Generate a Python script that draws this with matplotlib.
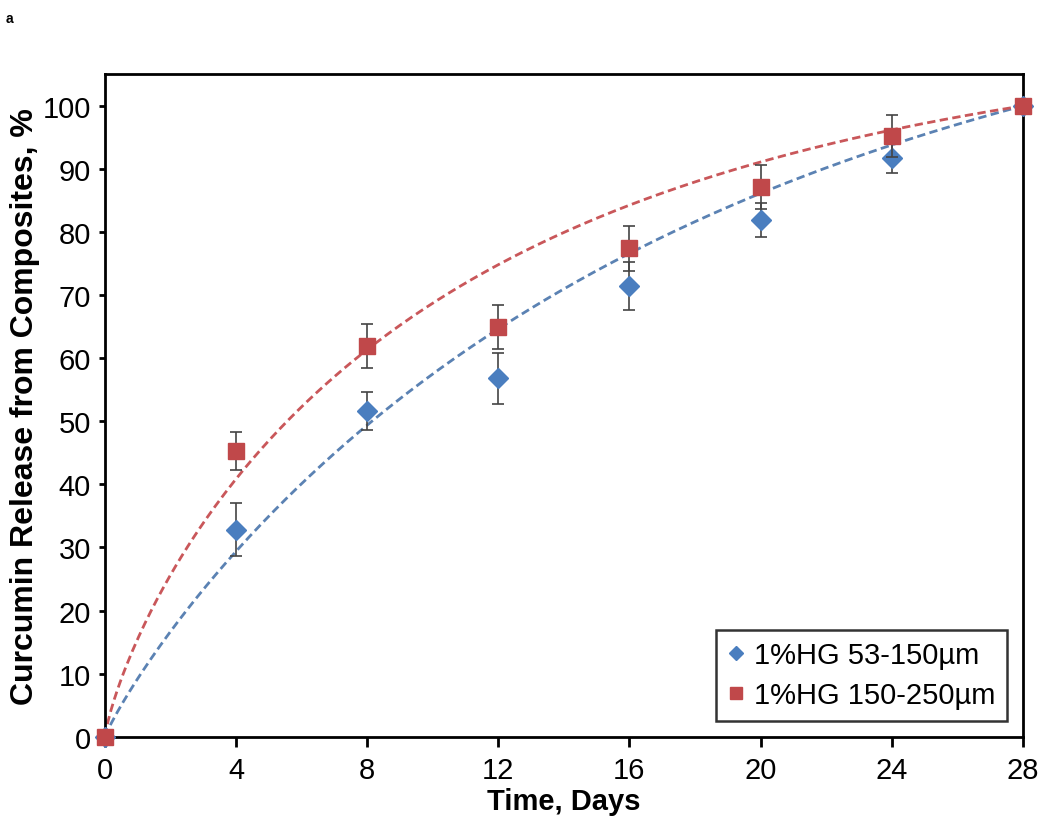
import numpy as np
import matplotlib
matplotlib.use('Agg')
import matplotlib.pyplot as plt
from matplotlib.lines import Line2D

plt.rcParams['font.family'] = ['Liberation Sans', 'DejaVu Sans']

# data
days = np.array([0, 4, 8, 12, 16, 20, 24, 28])
small = np.array([0, 32.8, 51.7, 56.8, 71.4, 81.9, 91.8, 100])      # 1%HG 53-150um
small_err = np.array([0, 4.2, 3.0, 4.0, 3.8, 2.7, 2.5, 0])
large = np.array([0, 45.3, 62.0, 65.0, 77.4, 87.1, 95.2, 100])      # 1%HG 150-250um
large_err = np.array([0, 3.0, 3.5, 3.5, 3.6, 3.5, 3.3, 0])
labels = ['1%HG 53-150µm', '1%HG 150-250µm']

# Weibull release fits shown as dashed lines (tau in days, beta)
tau_small, beta_small = 18.0, 0.9
tau_large, beta_large = 11.0, 0.8

blue = '#4a7ebf'
red = '#c0484a'


def release(t, tau, beta):
    # normalised so that the fit reaches 100 % on the last day
    f = lambda x: 1 - np.exp(-(x / tau) ** beta)
    return 100 * f(t) / f(days[-1])


fig = plt.figure(figsize=(10.5, 8.28), dpi=100)
ax = fig.add_axes([0.1, 0.109, 0.874, 0.8])

tt = np.linspace(0, days[-1], 300)
ax.plot(tt, release(tt, tau_small, beta_small), '--', color='#5b82b3', lw=2,
        dashes=(3, 1.6), zorder=2)
ax.plot(tt, release(tt, tau_large, beta_large), '--', color='#c9575a', lw=2,
        dashes=(3, 1.6), zorder=2)

eb1 = ax.errorbar(days, small, yerr=small_err, fmt='D', color=blue, ms=10,
                  ecolor='#444444', elinewidth=1.2, capsize=4, capthick=1.2, zorder=3)
eb2 = ax.errorbar(days, large, yerr=large_err, fmt='s', color=red, ms=11,
                  ecolor='#444444', elinewidth=1.2, capsize=4, capthick=1.2, zorder=4)
eb1[0].set_clip_on(False)
eb2[0].set_clip_on(False)

ax.set_xlim(0, 28)
ax.set_ylim(0, 105)
ax.set_xticks(range(0, 29, 4))
ax.set_yticks(range(0, 101, 10))
ax.tick_params(labelsize=21, width=2, direction='out')
ax.tick_params(axis='x', length=7, pad=7)
ax.tick_params(axis='y', length=4, pad=6)
for s in ax.spines.values():
    s.set_linewidth(2)

ax.set_xlabel('Time, Days', fontsize=21, fontweight='bold', labelpad=2)
ax.set_ylabel('Curcumin Release from Composites, %', fontsize=23,
              fontweight='bold', labelpad=2)

handles = [Line2D([], [], ls='none', marker='D', color=blue, ms=7),
           Line2D([], [], ls='none', marker='s', color=red, ms=8)]
leg = ax.legend(handles, labels, loc='lower right', fontsize=21, frameon=True,
                fancybox=False, edgecolor='black', handlelength=0.6,
                handletextpad=0.3, borderaxespad=0.55, labelspacing=0.4,
                borderpad=0.4)
leg.get_frame().set_linewidth(1.8)

fig.text(0.005, 0.985, 'a', fontsize=10, fontweight='bold', va='top')

fig.savefig('out.png', dpi=100)
